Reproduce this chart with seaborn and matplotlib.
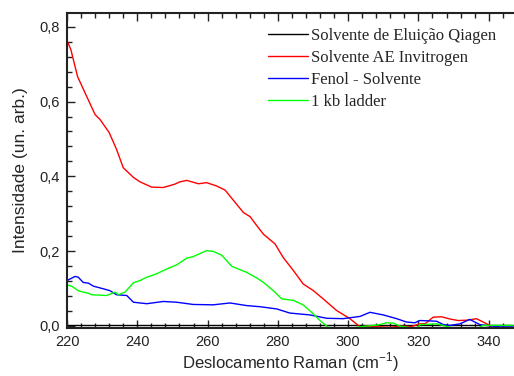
import matplotlib
matplotlib.use("Agg")
import matplotlib.pyplot as plt
import seaborn as sns
import pandas as pd
from matplotlib.ticker import MultipleLocator, FuncFormatter
from matplotlib.lines import Line2D

# ---- data ----
black_x = [220, 240, 260, 280, 300, 320, 340, 347]
black_y = [0.001, 0.001, 0.001, 0.001, 0.001, 0.001, 0.001, 0.001]

red_x = [220, 221.1, 223, 225.1, 228, 229.4, 232, 234.1, 236, 238.9, 240.8, 244.1,
         247.4, 250.7, 252.1, 254.1, 257.4, 259.7, 262.6, 265, 266.9, 270.2, 272.1,
         274, 275.9, 279.2, 281.5, 284.4, 287.2, 290.1, 292.9, 296.7, 300.5, 303.4,
         306, 309, 312, 315, 318, 320.4, 322, 324.2, 326.6, 329, 331.3, 334, 336.5,
         338, 339.9, 341.8]
red_y = [0.763, 0.739, 0.667, 0.624, 0.565, 0.552, 0.517, 0.472, 0.423, 0.397, 0.385, 0.371,
         0.370, 0.379, 0.385, 0.389, 0.380, 0.383, 0.374, 0.363, 0.341, 0.303, 0.292,
         0.268, 0.245, 0.219, 0.183, 0.148, 0.112, 0.094, 0.072, 0.041, 0.019, -0.003,
         -0.001, -0.003, -0.004, -0.001, -0.002, 0.005, 0.006, 0.023, 0.024, 0.018, 0.014, 0.015, 0.019,
         0.012, 0.003, -0.012]

blue_x = [220, 222.3, 223.2, 224.6, 226.1, 227.5, 230.3, 232.2, 234.1, 237, 238.9, 242.7,
          247.4, 251.2, 255.9, 261.6, 266.4, 271.1, 274.9, 279.7, 283.4, 289.1, 293.9,
          298.6, 303.4, 306.2, 310, 313.8, 316.6, 319, 320.4, 323.3, 325.2, 327.1, 329,
          331.8, 334.6, 337.5, 341.2, 343.2, 347]
blue_y = [0.121, 0.132, 0.130, 0.116, 0.114, 0.106, 0.099, 0.094, 0.083, 0.081, 0.063, 0.059,
          0.065, 0.063, 0.057, 0.056, 0.061, 0.054, 0.051, 0.045, 0.034, 0.029, 0.020,
          0.019, 0.025, 0.036, 0.029, 0.019, 0.010, 0.008, 0.014, 0.013, 0.012, 0.003, 0.001,
          0.005, 0.017, 0.003, -0.001, -0.003, -0.003]

green_x = [220, 221.3, 223.2, 224.6, 226.1, 227, 231.3, 233.7, 234.6, 236.5, 238.9, 240.8,
           242.7, 245.5, 248.4, 251.2, 254.1, 255.9, 259.7, 261.6, 264, 266.9, 271.1,
           274, 275.9, 278.7, 281.1, 284.4, 287.2, 289.6, 292, 294.3, 299.6, 303, 306,
           308.5, 311, 313, 314.7, 317, 319.5, 320.4, 325.2, 329, 331.8, 336.5, 338.4, 347]
green_y = [0.109, 0.106, 0.094, 0.090, 0.087, 0.083, 0.081, 0.090, 0.083, 0.090, 0.115, 0.121,
           0.130, 0.139, 0.152, 0.163, 0.181, 0.185, 0.201, 0.199, 0.189, 0.159, 0.143,
           0.128, 0.116, 0.094, 0.072, 0.068, 0.056, 0.036, 0.014, -0.004, -0.010, -0.003, 0.000,
           0.002, 0.008, 0.007, -0.001, -0.004, -0.008, 0.003, 0.005, -0.004, -0.010, -0.008, 0.001, 0.001]

labels = ["Solvente de Eluição Qiagen", "Solvente AE Invitrogen", "Fenol - Solvente", "1 kb ladder"]
colors = ["#000000", "#ff0000", "#0000ff", "#00ff00"]
xs = [black_x, red_x, blue_x, green_x]
ys = [black_y, red_y, blue_y, green_y]

frames = []
for lab, x, y in zip(labels, xs, ys):
    frames.append(pd.DataFrame({"x": x, "y": y, "s": lab}))
df = pd.concat(frames, ignore_index=True)

sns.set_style("ticks")
plt.rcParams["font.family"] = ["Liberation Sans", "DejaVu Sans"]
plt.rcParams["xtick.direction"] = "in"
plt.rcParams["ytick.direction"] = "in"

fig = plt.figure(figsize=(5.14, 3.76), dpi=100)
ax = fig.add_axes([67 / 514, 48 / 376, (514 - 67) / 514, (328 - 13) / 376])

sns.lineplot(data=df, x="x", y="y", hue="s", palette=dict(zip(labels, colors)),
             hue_order=labels, sort=False, estimator=None, linewidth=1.0, ax=ax,
             legend=False)

ax.set_xlim(220, 347.2)
ax.set_ylim(-0.006, 0.837)
ax.xaxis.set_major_locator(MultipleLocator(20))
ax.xaxis.set_minor_locator(MultipleLocator(4))
ax.yaxis.set_major_locator(MultipleLocator(0.2))
ax.yaxis.set_minor_locator(MultipleLocator(0.04))
ax.yaxis.set_major_formatter(FuncFormatter(lambda v, p: f"{v:.1f}".replace(".", ",").replace("-0,0", "0,0")))

ax.tick_params(which="both", top=True, right=False, direction="in", colors="#222222",
               labelsize=10.5, width=1.0)
ax.tick_params(which="major", length=6, pad=5)
ax.tick_params(which="minor", length=3.5)
for side in ["left", "bottom", "top"]:
    ax.spines[side].set_linewidth(1.5)
    ax.spines[side].set_color("#222222")
ax.spines["right"].set_visible(False)

ax.set_xlabel("Deslocamento Raman (cm$^{\\mathregular{-1}}$)", fontsize=12, labelpad=1)
ax.set_ylabel("Intensidade (un. arb.)", fontsize=12.5, labelpad=8)

handles = [Line2D([], [], color=c, lw=1.0) for c in colors]
fig.legend(handles, labels, loc="upper left", bbox_to_anchor=(268 / 514, 1 - 28 / 376),
           frameon=False, prop={"family": "Liberation Serif", "size": 12},
           handlelength=2.4, handletextpad=0.2, labelspacing=0.36, borderaxespad=0,
           borderpad=0)

fig.savefig("out.png", dpi=100)
